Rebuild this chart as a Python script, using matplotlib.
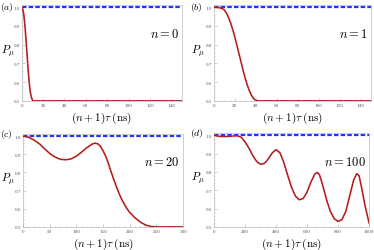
import matplotlib
matplotlib.use("Agg")
import matplotlib.pyplot as plt
from matplotlib.ticker import MultipleLocator

plt.rcParams['mathtext.fontset'] = 'cm'
plt.rcParams['font.family'] = ['DejaVu Serif']

# Panel (a): n = 0
t_a = [0, 1, 2, 3, 4, 5, 6, 7, 8, 9, 10, 11, 12, 150]
p_a = [1.0, 0.99, 0.96, 0.905, 0.83, 0.75, 0.67, 0.60, 0.55, 0.52, 0.505, 0.5, 0.5, 0.5]

# Panel (b): n = 1
t_b = [0, 5, 8, 10, 12, 14, 16, 18, 20, 22, 24, 26, 28, 30, 32, 34, 36, 38, 40, 42, 150]
p_b = [1.0, 0.998, 0.993, 0.985, 0.968, 0.945, 0.915, 0.88, 0.84, 0.795, 0.75, 0.705, 0.66, 0.618, 0.582, 0.552, 0.528, 0.512, 0.503, 0.5, 0.5]

# Panel (c): n = 20
t_c = [0, 10, 20, 30, 40, 50, 60, 70, 80, 90, 100, 110, 120, 130, 135, 140, 145, 150,
       155, 160, 165, 170, 175, 180, 185, 190, 195, 200, 210, 220, 230, 240, 250, 300]
p_c = [1.0, 0.995, 0.98, 0.96, 0.932, 0.905, 0.885, 0.873, 0.870, 0.875, 0.89, 0.913, 0.938, 0.957, 0.962, 0.958, 0.945, 0.92,
       0.89, 0.85, 0.805, 0.762, 0.722, 0.685, 0.652, 0.625, 0.60, 0.58, 0.55, 0.526, 0.51, 0.502, 0.5, 0.5]

# Panel (d): n = 100
t_d = [0, 25, 50, 75, 100, 125, 150, 175, 200, 225, 250, 275, 300, 325, 350, 375, 400, 425,
       450, 475, 500, 525, 550, 575, 600, 625, 650, 665, 680, 700, 725, 750, 775, 800, 825,
       850, 875, 900, 920, 935, 950, 975, 1000]
p_d = [1.0, 0.995, 0.993, 0.993, 0.994, 0.996, 0.997, 0.99, 0.965, 0.93, 0.89, 0.857, 0.842, 0.846, 0.87, 0.903, 0.921, 0.905,
       0.852, 0.782, 0.716, 0.668, 0.648, 0.655, 0.69, 0.745, 0.788, 0.797, 0.785, 0.73, 0.65, 0.585, 0.545, 0.53, 0.54,
       0.585, 0.67, 0.755, 0.79, 0.78, 0.72, 0.61, 0.52]

panels = [
    ("(a)", "$n = 0$", t_a, p_a, 150, 20, 5, [0.058, 0.594, 0.429, 0.382], (0.0, 1 - 7 / 251)),
    ("(b)", "$n = 1$", t_b, p_b, 150, 20, 5, [0.572, 0.594, 0.420, 0.382], (190 / 374, 1 - 7 / 251)),
    ("(c)", "$n = 20$", t_c, p_c, 300, 50, 10, [0.0615, 0.092, 0.428, 0.370], (0.0, 1 - 135 / 251)),
    ("(d)", "$n = 100$", t_d, p_d, 1000, 200, 50, [0.572, 0.092, 0.415, 0.374], (190 / 374, 1 - 134 / 251)),
]

fig = plt.figure(figsize=(3.74, 2.51), dpi=100)
for lab, ntxt, t, p, xmax, xmaj, xmin, rect, lpos in panels:
    ax = fig.add_axes(rect)
    ax.plot([0, xmax], [1.0, 1.0], color='#2233ff', lw=1.6, ls=(0, (2.0, 1.0)), zorder=2)
    ax.plot(t, p, color='#e03030', lw=1.2, zorder=3)
    ax.plot(t, p, color='black', lw=0.5, ls=(0, (1, 1.5)), zorder=4)
    ax.set_xlim(0, xmax)
    ax.set_ylim(0.5, 1.012)
    ax.xaxis.set_major_locator(MultipleLocator(xmaj))
    ax.xaxis.set_minor_locator(MultipleLocator(xmin))
    ax.yaxis.set_minor_locator(MultipleLocator(0.02))
    ax.set_yticks([0.5, 0.6, 0.7, 0.8, 0.9, 1.0])
    ax.set_yticklabels(["0.5", "0.6", "0.7", "0.8", "0.9", "1.0"])
    ax.tick_params(which='both', direction='in', colors='#aaaaaa', labelcolor='#555555',
                   labelsize=3.0, pad=1.2, width=0.4)
    ax.tick_params(which='major', length=2.0)
    ax.tick_params(which='minor', length=1.0)
    for s in ax.spines.values():
        s.set_color('#bbbbbb')
        s.set_linewidth(0.5)
    ax.set_xlabel(r"$(n+1)\tau\;(\mathrm{ns})$", fontsize=8, labelpad=2)
    fig.text(lpos[0] + 1 / 374, rect[1] + 0.52 * rect[3], r"$P_\mu$", fontsize=8,
             ha='left', va='center')
    ax.text(0.98, 0.70, ntxt, transform=ax.transAxes, fontsize=9, ha='right', va='center')
    fig.text(lpos[0], lpos[1], "$" + lab + "$", fontsize=7, ha='left', va='center')

fig.savefig("out.png", dpi=100)
